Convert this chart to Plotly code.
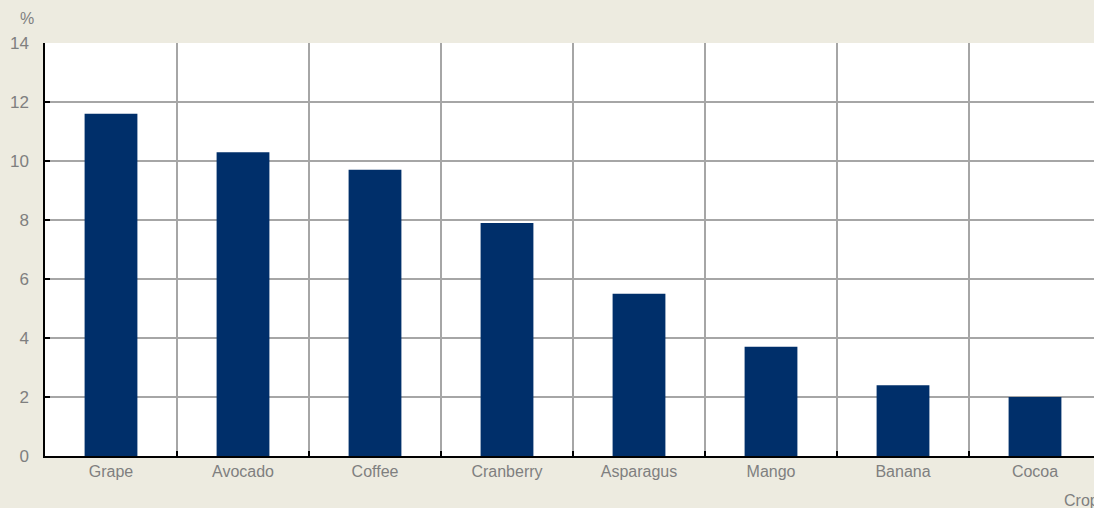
import plotly.graph_objects as go

crops = ["Grape", "Avocado", "Coffee", "Cranberry", "Asparagus", "Mango", "Banana", "Cocoa"]
values = [11.6, 10.3, 9.7, 7.9, 5.5, 3.7, 2.4, 2.0]
y_ticks = [0, 2, 4, 6, 8, 10, 12, 14]

BG = "#EDEBE0"
BAR = "#002F6A"
GRID = "#A6A6A6"
TXT = "#7F7F7F"
FONT = "Liberation Sans, Arial, sans-serif"

fig = go.Figure(go.Bar(x=crops, y=values, marker=dict(color=BAR, line=dict(width=0)), width=0.4))

fig.update_layout(
    width=1094, height=508,
    margin=dict(l=45, r=0, t=43, b=52),
    paper_bgcolor=BG, plot_bgcolor="white",
    font=dict(family=FONT, size=15, color=TXT),
    showlegend=False,
)
fig.update_xaxes(
    range=[-0.5, 7.447],
    tickson="boundaries",
    showgrid=True, gridcolor=GRID, gridwidth=1.5,
    ticks="inside", ticklen=5, tickcolor="black", tickwidth=1.5,
    showline=True, linecolor="black", linewidth=1.5,
    ticklabelstandoff=0,
    tickfont=dict(family=FONT, size=16, color=TXT),
)
fig.update_yaxes(
    range=[0, 14], tickvals=y_ticks,
    showgrid=True, gridcolor=GRID, gridwidth=1.5,
    ticks="inside", ticklen=5, tickcolor="black", tickwidth=1.5,
    showline=True, linecolor="black", linewidth=1.5,
    zeroline=False,
    ticklabelstandoff=11,
    tickfont=dict(family=FONT, size=17, color=TXT),
)
fig.add_annotation(text="%", xref="paper", yref="paper", x=(18-45)/1049, y=1.0, yshift=14,
                   xanchor="left", yanchor="bottom", showarrow=False,
                   font=dict(family=FONT, size=16, color=TXT))
fig.add_annotation(text="Crop", xref="paper", yref="paper", x=(1062-45)/1049, y=0, yshift=-34,
                   xanchor="left", yanchor="top", showarrow=False,
                   font=dict(family=FONT, size=16, color=TXT))

fig.write_html("out.html")
